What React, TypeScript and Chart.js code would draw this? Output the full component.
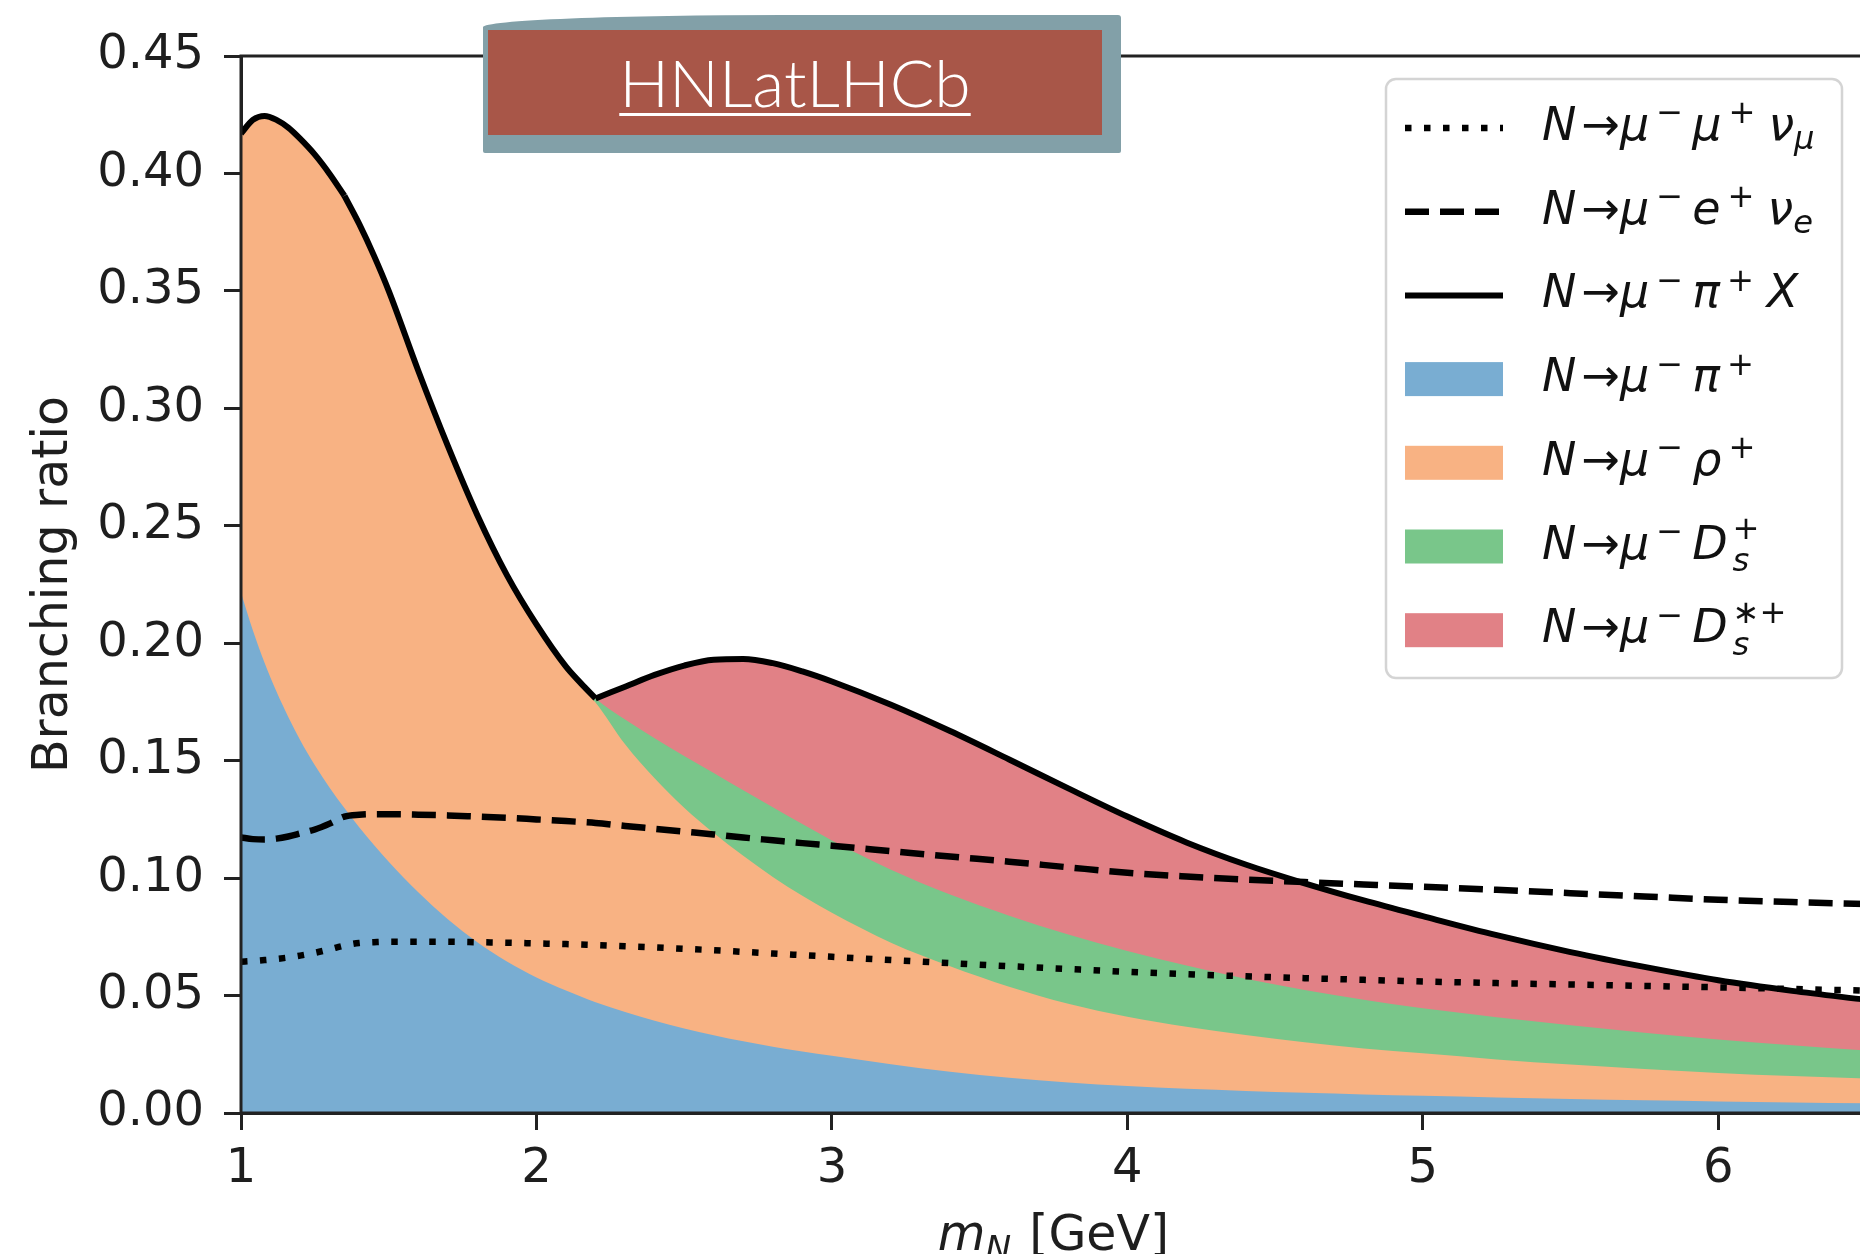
import React, { useEffect, useRef } from 'react';
import { Chart, registerables } from 'chart.js';

Chart.register(...registerables);

const FONT = '"DejaVu Sans", "Liberation Sans", sans-serif';
const INK = '#1e1e1e';

// Heavy neutral lepton mass grid [GeV]
const mass = [
  1.0, 1.04, 1.08, 1.12, 1.16, 1.2, 1.25, 1.3, 1.35, 1.4,
  1.45, 1.5, 1.6, 1.7, 1.8, 1.9, 2.0, 2.1, 2.15, 2.2,
  2.3, 2.4, 2.5, 2.6, 2.7, 2.8, 2.9, 3.0, 3.2, 3.4,
  3.6, 3.8, 4.0, 4.2, 4.4, 4.6, 4.8, 5.0, 5.25, 5.5,
  5.75, 6.0, 6.25, 6.5,
];

// masses where the inclusive curve has a kink (channel thresholds)
const kinkMasses = [1.35, 2.2];

// N -> mu- mu+ nu_mu (dotted)
const brMuMuNu = [
  0.0644, 0.0647, 0.0651, 0.0656, 0.0662, 0.0670, 0.0682, 0.0697, 0.0713, 0.0724,
  0.0727, 0.0729, 0.0729, 0.0729, 0.0727, 0.0725, 0.0722, 0.0719, 0.0717, 0.0715,
  0.0710, 0.0705, 0.0699, 0.0693, 0.0686, 0.0679, 0.0672, 0.0665, 0.0651, 0.0638,
  0.0625, 0.0613, 0.0601, 0.0591, 0.0582, 0.0574, 0.0567, 0.0560, 0.0553, 0.0547,
  0.0541, 0.0535, 0.0528, 0.0521,
];

// N -> mu- e+ nu_e (dashed)
const brMuENu = [
  0.1173, 0.1166, 0.1164, 0.1168, 0.1177, 0.1190, 0.1207, 0.1232, 0.1262, 0.1270,
  0.1272, 0.1272, 0.1270, 0.1267, 0.1262, 0.1257, 0.1250, 0.1243, 0.1239, 0.1235,
  0.1222, 0.1210, 0.1198, 0.1186, 0.1173, 0.1161, 0.1149, 0.1138, 0.1115, 0.1092,
  0.1070, 0.1046, 0.1023, 0.1007, 0.0994, 0.0983, 0.0973, 0.0963, 0.0950, 0.0936,
  0.0922, 0.0908, 0.0898, 0.0890,
];

// Upper edge of the stacked band N -> mu- pi+
const edgePi = [
  0.2215, 0.2055, 0.1916, 0.1794, 0.1686, 0.1588, 0.1480, 0.1385, 0.1298, 0.1217,
  0.1141, 0.1070, 0.0940, 0.0825, 0.0727, 0.0645, 0.0577, 0.0521, 0.0496, 0.0472,
  0.0430, 0.0393, 0.0360, 0.0331, 0.0305, 0.0282, 0.0262, 0.0244, 0.0208, 0.0176,
  0.0150, 0.0130, 0.0115, 0.0103, 0.0094, 0.0086, 0.0079, 0.0073, 0.0066, 0.0060,
  0.0054, 0.0049, 0.0045, 0.0041,
];

// Upper edge of the stacked band N -> mu- rho+
const edgeRho = [
  0.4170, 0.4228, 0.4245, 0.4228, 0.4195, 0.4148, 0.4080, 0.3998, 0.3905, 0.3785,
  0.3650, 0.3500, 0.3160, 0.2840, 0.2545, 0.2290, 0.2080, 0.1900, 0.1815, 0.1748,
  0.1570, 0.1425, 0.1300, 0.1192, 0.1095, 0.1005, 0.0925, 0.0852, 0.0725, 0.0625,
  0.0538, 0.0465, 0.0410, 0.0367, 0.0332, 0.0301, 0.0275, 0.0254, 0.0228, 0.0206,
  0.0187, 0.0170, 0.0157, 0.0147,
];

// Upper edge of the stacked band N -> mu- Ds+
const edgeDs = [
  0.4170, 0.4228, 0.4245, 0.4228, 0.4195, 0.4148, 0.4080, 0.3998, 0.3905, 0.3785,
  0.3650, 0.3500, 0.3160, 0.2840, 0.2545, 0.2290, 0.2080, 0.1900, 0.1830, 0.1765,
  0.1675, 0.1595, 0.1520, 0.1448, 0.1374, 0.1302, 0.1230, 0.1160, 0.1036, 0.0930,
  0.0840, 0.0760, 0.0690, 0.0628, 0.0572, 0.0524, 0.0482, 0.0446, 0.0408, 0.0374,
  0.0342, 0.0313, 0.0288, 0.0266,
];

// Upper edge of the stacked band N -> mu- Ds*+  (= inclusive N -> mu- pi+ X, solid)
const edgeDsStar = [
  0.4170, 0.4228, 0.4245, 0.4228, 0.4195, 0.4148, 0.4080, 0.3998, 0.3905, 0.3785,
  0.3650, 0.3500, 0.3160, 0.2840, 0.2545, 0.2290, 0.2080, 0.1900, 0.1830, 0.1765,
  0.1815, 0.1865, 0.1905, 0.1930, 0.1933, 0.1915, 0.1880, 0.1837, 0.1738, 0.1626,
  0.1505, 0.1382, 0.1262, 0.1152, 0.1058, 0.0978, 0.0905, 0.0838, 0.0757, 0.0685,
  0.0622, 0.0565, 0.0520, 0.0482,
];

const xTickValues = [1, 2, 3, 4, 5, 6];
const xTickLabels = ['1', '2', '3', '4', '5', '6'];
const yTickValues = [0, 0.05, 0.1, 0.15, 0.2, 0.25, 0.3, 0.35, 0.4, 0.45];
const yTickLabels = ['0.00', '0.05', '0.10', '0.15', '0.20', '0.25', '0.30', '0.35', '0.40', '0.45'];

const C_BLUE = '#79ADD2';
const C_ORANGE = '#F8B283';
const C_GREEN = '#79C68A';
const C_RED = '#E18186';

type Tok = { t: string; k: 'i' | 'r' | 'sup' | 'subi' | 'ss'; sub?: string; g?: number };

const head: Tok[] = [
  { t: 'N', k: 'i', g: 5 },
  { t: '→', k: 'r', g: 0 },
  { t: 'μ', k: 'i', g: 7 },
  { t: '−', k: 'sup', g: 9 },
];

type Row = { kind: 'dot' | 'dash' | 'solid' | 'patch'; color?: string; toks: Tok[] };

const legendRows: Row[] = [
  { kind: 'dot', toks: [...head, { t: 'μ', k: 'i', g: 7 }, { t: '+', k: 'sup', g: 13 }, { t: 'ν', k: 'i' }, { t: 'μ', k: 'subi' }] },
  { kind: 'dash', toks: [...head, { t: 'e', k: 'i', g: 7 }, { t: '+', k: 'sup', g: 13 }, { t: 'ν', k: 'i' }, { t: 'e', k: 'subi' }] },
  { kind: 'solid', toks: [...head, { t: 'π', k: 'i', g: 7 }, { t: '+', k: 'sup', g: 13 }, { t: 'X', k: 'i' }] },
  { kind: 'patch', color: C_BLUE, toks: [...head, { t: 'π', k: 'i', g: 7 }, { t: '+', k: 'sup' }] },
  { kind: 'patch', color: C_ORANGE, toks: [...head, { t: 'ρ', k: 'i', g: 7 }, { t: '+', k: 'sup' }] },
  { kind: 'patch', color: C_GREEN, toks: [...head, { t: 'D', k: 'i', g: 5 }, { t: '+', k: 'ss', sub: 's' }] },
  { kind: 'patch', color: C_RED, toks: [...head, { t: 'D', k: 'i', g: 5 }, { t: '∗+', k: 'ss', sub: 's' }] },
];

const xTitleToks: Tok[] = [
  { t: 'm', k: 'i' },
  { t: 'N', k: 'subi', g: 18 },
  { t: '[GeV]', k: 'r' },
];

const DOT = [6.5, 12.5];
const DASH = [24, 11];

function drawMath(ctx: CanvasRenderingContext2D, toks: Tok[], x: number, y: number, size: number, draw = true): number {
  let cx = x;
  const small = size * 0.7;
  for (const tk of toks) {
    let w = 0;
    if (tk.k === 'i' || tk.k === 'r') {
      ctx.font = `${tk.k === 'i' ? 'italic ' : ''}${size}px ${FONT}`;
      if (draw) ctx.fillText(tk.t, cx, y);
      w = ctx.measureText(tk.t).width;
    } else if (tk.k === 'sup') {
      ctx.font = `${small}px ${FONT}`;
      if (draw) ctx.fillText(tk.t, cx, y - size * 0.36);
      w = ctx.measureText(tk.t).width;
    } else if (tk.k === 'subi') {
      ctx.font = `italic ${small}px ${FONT}`;
      if (draw) ctx.fillText(tk.t, cx, y + size * 0.2);
      w = ctx.measureText(tk.t).width;
    } else if (tk.k === 'ss') {
      ctx.font = `${small}px ${FONT}`;
      if (draw) ctx.fillText(tk.t, cx, y - size * 0.42);
      const w1 = ctx.measureText(tk.t).width;
      ctx.font = `italic ${small}px ${FONT}`;
      if (draw) ctx.fillText(tk.sub || '', cx, y + size * 0.27);
      const w2 = ctx.measureText(tk.sub || '').width;
      w = Math.max(w1, w2);
    }
    cx += w + (tk.g ?? 0);
  }
  return cx - x;
}

const overlayPlugin = {
  id: 'overlay',
  afterDatasetsDraw(chart: any) {
    const { ctx, chartArea } = chart;
    const { left, top, right, bottom } = chartArea;
    ctx.save();
    ctx.strokeStyle = '#222';
    ctx.lineWidth = 3;
    ctx.setLineDash([]);
    ctx.beginPath();
    ctx.moveTo(left, bottom);
    ctx.lineTo(left, top);
    ctx.lineTo(right + 5, top);
    ctx.moveTo(left - 1.5, bottom);
    ctx.lineTo(right + 5, bottom);
    ctx.stroke();
    ctx.restore();
  },
  afterDraw(chart: any) {
    const { ctx, chartArea } = chart;
    ctx.save();
    const bx = 1386, by = 79, bw = 456, bh = 599, r = 10;
    ctx.beginPath();
    ctx.moveTo(bx + r, by);
    ctx.arcTo(bx + bw, by, bx + bw, by + bh, r);
    ctx.arcTo(bx + bw, by + bh, bx, by + bh, r);
    ctx.arcTo(bx, by + bh, bx, by, r);
    ctx.arcTo(bx, by, bx + bw, by, r);
    ctx.closePath();
    ctx.fillStyle = 'rgba(255,255,255,0.8)';
    ctx.fill();
    ctx.lineWidth = 2.5;
    ctx.strokeStyle = 'rgba(204,204,204,0.85)';
    ctx.stroke();

    const hx0 = 1405, hx1 = 1503, tx = 1542;
    legendRows.forEach((row, i) => {
      const base = 140 + i * 83.7;
      const hy = base - 12;
      if (row.kind === 'patch') {
        ctx.fillStyle = row.color as string;
        ctx.fillRect(hx0, hy - 17, hx1 - hx0, 34);
      } else {
        ctx.strokeStyle = '#000';
        ctx.lineWidth = row.kind === 'solid' ? 6 : 6.5;
        ctx.lineCap = 'butt';
        ctx.setLineDash(row.kind === 'dot' ? DOT : row.kind === 'dash' ? DASH : []);
        ctx.beginPath();
        ctx.moveTo(hx0, hy);
        ctx.lineTo(hx1, hy);
        ctx.stroke();
        ctx.setLineDash([]);
      }
      ctx.fillStyle = '#111';
      ctx.textBaseline = 'alphabetic';
      ctx.textAlign = 'left';
      drawMath(ctx, row.toks, tx, base, 46);
    });

    ctx.fillStyle = INK;
    ctx.textBaseline = 'alphabetic';
    ctx.textAlign = 'left';
    const w = drawMath(ctx, xTitleToks, 0, 0, 49, false);
    const cx = (chartArea.left + chartArea.right) / 2;
    drawMath(ctx, xTitleToks, cx - w / 2, 1250, 49);
    ctx.restore();
  },
};

function pts(ys: number[]) {
  return mass.map((x, i) => ({ x, y: ys[i] }));
}

export default function App() {
  const ref = useRef<HTMLCanvasElement | null>(null);

  useEffect(() => {
    document.body.style.margin = '0';
    const canvas = ref.current;
    if (!canvas) return;
    const band = (label: string, data: number[], color: string) => ({
      label,
      data: pts(data),
      borderColor: color,
      backgroundColor: color,
      borderWidth: 0,
      pointRadius: 0,
      fill: 'origin',
      cubicInterpolationMode: 'monotone' as const,
    });
    const line = (label: string, data: { x: number; y: number }[], dash: number[], width: number) => ({
      label,
      data,
      borderColor: '#000',
      backgroundColor: '#000',
      borderWidth: width,
      borderDash: dash,
      borderCapStyle: 'butt' as const,
      borderJoinStyle: 'round' as const,
      pointRadius: 0,
      fill: false,
      cubicInterpolationMode: 'monotone' as const,
    });
    // the inclusive curve is drawn piecewise so its threshold kinks stay sharp
    const k1 = mass.indexOf(kinkMasses[0]);
    const k2 = mass.indexOf(kinkMasses[1]);
    const incl = pts(edgeDsStar);
    const tickFont = { family: FONT, size: 48 };
    const chart = new Chart(canvas, {
      type: 'line',
      data: {
        datasets: [
          line('N→μ⁻μ⁺ν_μ', pts(brMuMuNu), DOT, 6.5),
          line('N→μ⁻e⁺ν_e', pts(brMuENu), DASH, 6.5),
          line('N→μ⁻π⁺X', incl.slice(0, k1 + 1), [], 6),
          line('N→μ⁻π⁺X ', incl.slice(k1, k2 + 1), [], 6),
          line('N→μ⁻π⁺X  ', incl.slice(k2), [], 6),
          band('N→μ⁻π⁺', edgePi, C_BLUE),
          band('N→μ⁻ρ⁺', edgeRho, C_ORANGE),
          band('N→μ⁻D_s⁺', edgeDs, C_GREEN),
          band('N→μ⁻D_s*⁺', edgeDsStar, C_RED),
        ] as any,
      },
      options: {
        animation: false,
        responsive: false,
        maintainAspectRatio: false,
        devicePixelRatio: 1,
        layout: { padding: { top: 56, left: 0, right: 0, bottom: 0 } },
        plugins: { legend: { display: false }, tooltip: { enabled: false } },
        elements: { point: { radius: 0 } },
        scales: {
          x: {
            type: 'linear',
            min: 1,
            max: 6.5,
            afterFit: (s: any) => { s.height = 141; },
            afterBuildTicks: (s: any) => { s.ticks = xTickValues.map((v) => ({ value: v })); },
            grid: { drawOnChartArea: false, drawTicks: true, tickLength: 17, color: '#222', lineWidth: 3 },
            border: { display: true, color: '#222', width: 3 },
            ticks: {
              color: INK,
              font: tickFont,
              padding: 11,
              maxRotation: 0,
              autoSkip: false,
              callback: (_v: any, i: number) => xTickLabels[i],
            },
            title: { display: false },
          },
          y: {
            type: 'linear',
            min: 0,
            max: 0.45,
            afterFit: (s: any) => { s.width = 241; },
            afterBuildTicks: (s: any) => { s.ticks = yTickValues.map((v) => ({ value: v })); },
            grid: { drawOnChartArea: false, drawTicks: true, tickLength: 17, color: '#222', lineWidth: 3 },
            border: { display: true, color: '#222', width: 3 },
            ticks: {
              color: INK,
              font: tickFont,
              padding: 20,
              autoSkip: false,
              callback: (_v: any, i: number) => yTickLabels[i],
            },
            title: {
              display: true,
              text: 'Branching ratio',
              color: INK,
              font: { family: FONT, size: 49 },
              padding: { top: 25, bottom: 0 },
            },
          },
        },
      } as any,
      plugins: [overlayPlugin],
    });
    return () => chart.destroy();
  }, []);

  return (
    <div style={{ position: 'fixed', left: 0, top: 0, width: 1860, height: 1254, overflow: 'hidden', background: '#fff' }}>
      <canvas ref={ref} width={1866} height={1254} style={{ position: 'absolute', left: 0, top: 0, width: 1866, height: 1254, display: 'block' }} />
      <div style={{ position: 'absolute', left: 483, top: 15, width: 638, height: 138, background: '#82A0A8', borderRadius: '300px 3px 2px 2px / 12px 3px 2px 2px' }} />
      <div style={{ position: 'absolute', left: 488, top: 30, width: 614, height: 105, background: '#A85648' }}>
        <span
          style={{
            position: 'absolute',
            left: 0,
            right: 0,
            top: 19,
            textAlign: 'center',
            color: '#fff',
            fontFamily: 'Lato, Roboto, "Liberation Sans", sans-serif',
            fontWeight: 300,
            fontSize: 66,
            lineHeight: '66px',
            textDecoration: 'underline',
            textDecorationThickness: '3px',
            textUnderlineOffset: '6px',
            whiteSpace: 'nowrap',
          }}
        >
          HNLatLHCb
        </span>
      </div>
    </div>
  );
}
